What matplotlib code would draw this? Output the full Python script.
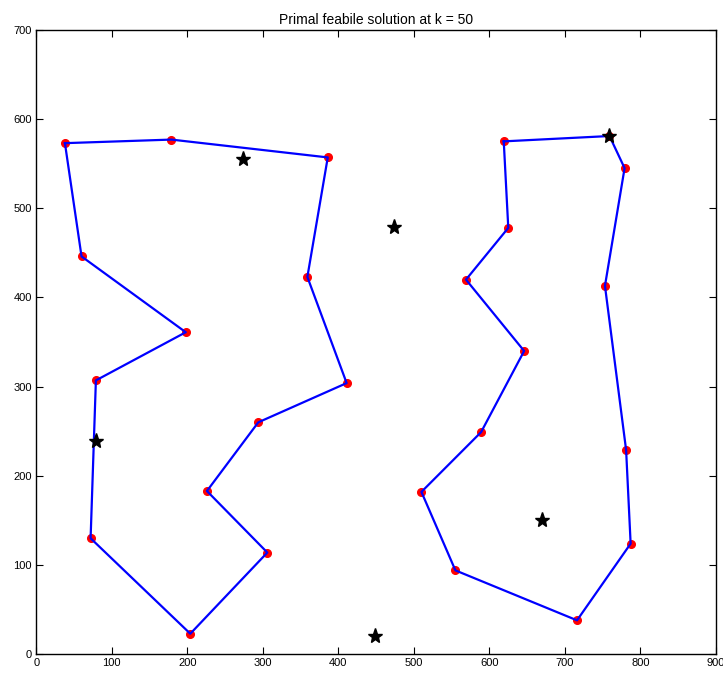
import matplotlib
matplotlib.use("Agg")
import matplotlib.pyplot as plt

# Tour 1 (left) vertices, in visiting order
tour1_x = [38, 179, 386, 359, 411, 294, 226, 306, 204, 72, 79, 198, 60]
tour1_y = [573, 577, 557, 423, 304, 260, 183, 114, 23, 130, 307, 361, 446]

# Tour 2 (right) vertices, in visiting order
tour2_x = [619, 759, 779, 753, 781, 787, 716, 555, 510, 589, 646, 569, 625]
tour2_y = [575, 581, 545, 413, 229, 124, 38, 94, 182, 249, 340, 420, 478]

# Star markers (centers)
star_x = [274, 474, 79, 759, 670, 449]
star_y = [555, 479, 239, 581, 150, 20]

title = "Primal feabile solution at k = 50"
xticks = list(range(0, 901, 100))
yticks = list(range(0, 701, 100))

plt.rcParams['font.family'] = ['Liberation Sans', 'DejaVu Sans']

fig = plt.figure(figsize=(7.23, 6.73), dpi=100)
ax = fig.add_axes([0.0501, 0.0279, 0.9402, 0.9277])

for tx, ty in ((tour1_x, tour1_y), (tour2_x, tour2_y)):
    ax.plot(tx, ty, 'o', color='red', markersize=5.5, zorder=2)
    ax.plot(tx + tx[:1], ty + ty[:1], '-', color='blue', linewidth=1.6, zorder=3)

ax.plot(star_x, star_y, '*', color='black', markersize=11, linestyle='none', zorder=4)

ax.set_xlim(0, 900)
ax.set_ylim(0, 700)
ax.set_xticks(xticks)
ax.set_yticks(yticks)
ax.tick_params(direction='in', top=True, right=True, length=5, width=0.8, labelsize=8, pad=3)
for s in ax.spines.values():
    s.set_linewidth(1.0)
ax.set_title(title, fontsize=10, pad=4)

fig.savefig("out.png", dpi=100)
